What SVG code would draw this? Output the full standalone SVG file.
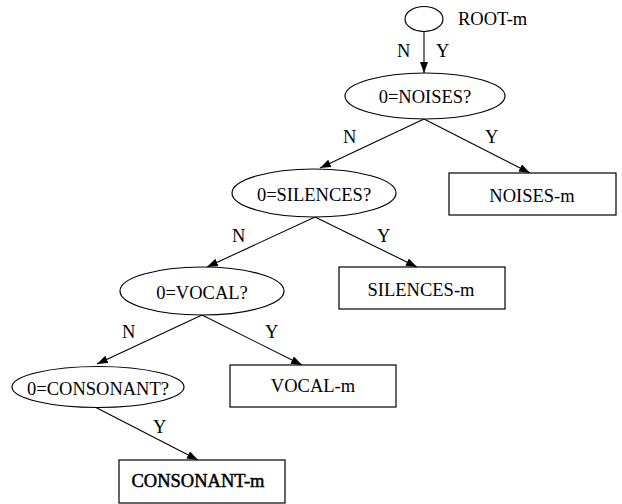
<svg xmlns="http://www.w3.org/2000/svg" width="622" height="504" viewBox="0 0 622 504">
<style>
text{font-family:"Liberation Serif","Times New Roman",serif;font-size:18.5px;fill:#000}
.n{fill:#fff;stroke:#000;stroke-width:1.2}
.c{text-anchor:middle}
.e{stroke:#000;stroke-width:1.1;fill:none;marker-end:url(#ah)}
.b{stroke:#000;stroke-width:0.5}
</style>
<defs>
<marker id="ah" markerUnits="userSpaceOnUse" markerWidth="12" markerHeight="8" refX="11" refY="4" orient="auto">
<path d="M0,0 L11,4 L0,8 z" fill="#000"/>
</marker>
</defs>
<rect width="622" height="504" fill="#fff"/>
<g id="connectors">
<line class="e" x1="424" y1="32" x2="424" y2="73"/>
<line class="e" x1="424" y1="119" x2="320" y2="168"/>
<line class="e" x1="424" y1="119" x2="530" y2="173"/>
<line class="e" x1="315" y1="217" x2="207" y2="267"/>
<line class="e" x1="315" y1="217" x2="417" y2="267"/>
<line class="e" x1="202" y1="315" x2="97" y2="364"/>
<line class="e" x1="202" y1="315" x2="302" y2="365"/>
<line class="e" x1="95" y1="407" x2="198" y2="460"/>
<text x="397" y="57">N</text>
<text x="436" y="57">Y</text>
<text x="343" y="143">N</text>
<text x="485" y="143">Y</text>
<text x="232" y="242">N</text>
<text x="377" y="242">Y</text>
<text x="122" y="338">N</text>
<text x="265" y="338">Y</text>
<text x="153" y="433">Y</text>
</g>
<g id="root">
<ellipse class="n" cx="424" cy="19" rx="19" ry="12.5"/>
<text x="458" y="25">ROOT-m</text>
</g>
<g id="noises">
<ellipse class="n" cx="425" cy="96" rx="80" ry="23"/>
<text class="c" x="425" y="103">0=NOISES?</text>
</g>
<g id="noises-m">
<rect class="n" x="449" y="173" width="167" height="42"/>
<text class="c" x="532" y="202">NOISES-m</text>
</g>
<g id="silences">
<ellipse class="n" cx="314" cy="193" rx="82" ry="24"/>
<text class="c" x="314" y="201">0=SILENCES?</text>
</g>
<g id="silences-m">
<rect class="n" x="339" y="267" width="166" height="42"/>
<text class="c" x="421" y="296">SILENCES-m</text>
</g>
<g id="vocal">
<ellipse class="n" cx="202" cy="291" rx="82" ry="24"/>
<text class="c" x="202" y="299">0=VOCAL?</text>
</g>
<g id="vocal-m">
<rect class="n" x="230" y="365" width="166" height="42"/>
<text class="c" x="313" y="392">VOCAL-m</text>
</g>
<g id="consonant">
<ellipse class="n" cx="98" cy="387" rx="86" ry="20.5"/>
<text class="c" x="98" y="395">0=CONSONANT?</text>
</g>
<g id="consonant-m">
<rect class="n" x="119" y="460" width="166" height="43"/>
<text class="c b" x="198" y="487">CONSONANT-m</text>
</g>
</svg>
